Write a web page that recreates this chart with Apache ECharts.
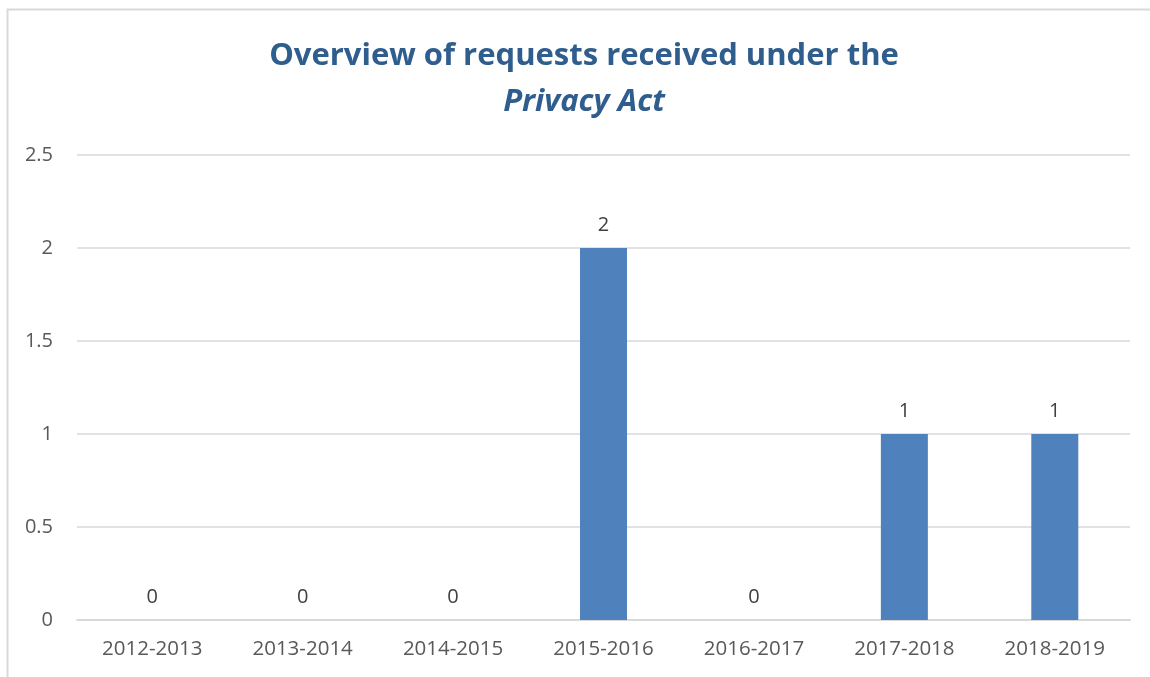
<!DOCTYPE html>
<html><head><meta charset="utf-8">
<script src="https://cdn.jsdelivr.net/npm/echarts@6/dist/echarts.min.js"></script>
<style>html,body{margin:0;padding:0;background:#fff}#c{width:1150px;height:677px}</style>
</head><body><div id="c"></div>
<script>
const categories = ['2012-2013','2013-2014','2014-2015','2015-2016','2016-2017','2017-2018','2018-2019'];
const requests = [0,0,0,2,0,1,1];
const yTicks = {min:0, max:2.5, interval:0.5};
const titleLine1 = 'Overview of requests received under the';
const titleLine2 = 'Privacy Act';

const chart = echarts.init(document.getElementById('c'), null, {renderer:'canvas'});
const font = '"Open Sans", "Noto Sans", sans-serif';
chart.setOption({
  animation:false,
  backgroundColor:'#fff',
  graphic:[{type:'polyline', shape:{points:[[7.5,677],[7.5,9.5],[1150,9.5]]}, style:{stroke:'#d9d9d9', lineWidth:2, fill:null}}],
  title:{
    text:'{a|'+titleLine1+'}\n{b|'+titleLine2+'}',
    left:579, top:28, textAlign:'center',
    textStyle:{rich:{
      a:{fontFamily:font, fontSize:31, fontWeight:'bold', color:'#2F5D8E', lineHeight:46},
      b:{fontFamily:font, fontSize:31, fontWeight:'bold', fontStyle:'italic', color:'#2F5D8E', lineHeight:46}
    }}
  },
  grid:{left:77, right:20, top:155, bottom:57, containLabel:false},
  xAxis:{type:'category', data:categories,
    axisLine:{show:true, lineStyle:{color:'#d9d9d9', width:2}}, axisTick:{show:false},
    axisLabel:{color:'#595959', fontSize:20.5, fontFamily:font, margin:19}},
  yAxis:{type:'value', min:yTicks.min, max:yTicks.max, interval:yTicks.interval,
    axisLine:{show:false}, axisTick:{show:false},
    splitLine:{lineStyle:{color:'#d9d9d9', width:1.5}},
    axisLabel:{color:'#595959', fontSize:20, fontFamily:font, margin:24}},
  series:[{type:'bar', data:requests, barWidth:47,
    itemStyle:{color:'#4F81BD'},
    label:{show:true, position:'top', distance:13, color:'#404040', fontSize:20, fontFamily:font}}]
});
</script></body></html>
